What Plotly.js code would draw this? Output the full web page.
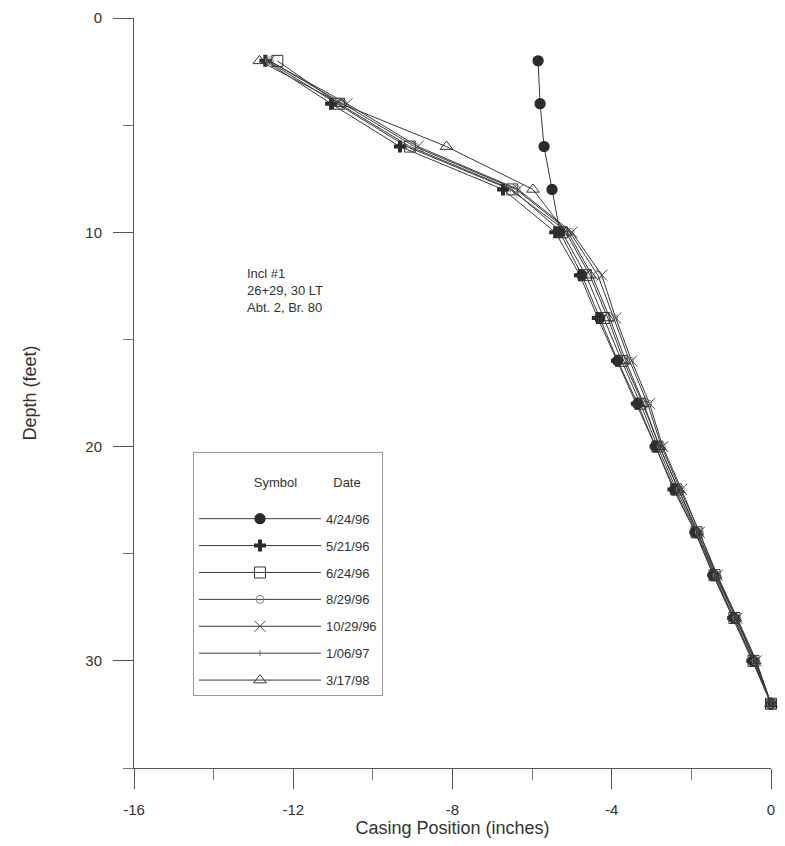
<!DOCTYPE html>
<html>
<head>
<meta charset="utf-8">
<script src="https://cdn.plot.ly/plotly-3.0.1.min.js"></script>
<style>html,body{margin:0;padding:0;background:#fff;}#chart{width:785px;height:846px;}</style>
</head>
<body>
<div id="chart"></div>
<script>
// Depth below top of casing (feet)
const depths = [2,4,6,8,10,12,14,16,18,20,22,24,26,28,30,32];
// Casing position (inches) per reading date
const dates = ["4/24/96","5/21/96","6/24/96","8/29/96","10/29/96","1/06/97","3/17/98"];
const s_042496 = [-5.85,-5.80,-5.70,-5.50,-5.30,-4.75,-4.30,-3.85,-3.35,-2.90,-2.42,-1.90,-1.45,-0.93,-0.45,0.00];
const s_052196 = [-12.70,-11.05,-9.32,-6.73,-5.42,-4.80,-4.35,-3.87,-3.37,-2.90,-2.45,-1.90,-1.45,-0.95,-0.47,0.00];
const s_062496 = [-12.40,-10.85,-9.07,-6.50,-5.25,-4.65,-4.20,-3.75,-3.28,-2.85,-2.38,-1.87,-1.42,-0.92,-0.44,0.00];
const s_082996 = [-12.60,-10.75,-8.95,-6.40,-5.05,-4.35,-3.95,-3.55,-3.10,-2.75,-2.28,-1.80,-1.36,-0.86,-0.38,0.00];
const s_102996 = [-12.60,-10.65,-8.87,-6.35,-5.00,-4.25,-3.90,-3.50,-3.05,-2.72,-2.25,-1.80,-1.35,-0.85,-0.37,0.00];
const s_010697 = [-12.65,-10.90,-9.15,-6.55,-5.10,-4.50,-4.05,-3.65,-3.20,-2.80,-2.32,-1.84,-1.40,-0.88,-0.40,0.00];
const s_031798 = [-12.85,-10.80,-8.15,-5.98,-5.15,-4.55,-4.10,-3.70,-3.22,-2.80,-2.33,-1.85,-1.39,-0.90,-0.41,0.00];
const xTickVals = [-16,-12,-8,-4,0];
const xTickText = ["-16","-12","-8","-4","0"];
const yTickVals = [0,10,20,30];
const yTickText = ["0","10","20","30"];
const noteLines = ["Incl #1","26+29, 30 LT","Abt. 2, Br. 80"];

const seriesVals = [s_042496,s_052196,s_062496,s_082996,s_102996,s_010697,s_031798];
const styles = [
  {symbol:"circle", size:10, color:"#2b2b2b", lw:1.3},
  {symbol:"cross", size:10, color:"#2b2b2b", lw:0},
  {symbol:"square-open", size:11, color:"#333", lw:1},
  {symbol:"circle-open", size:8, color:"#888", lw:1},
  {symbol:"x-thin-open", size:11, color:"#444", lw:1},
  {symbol:"line-ns-open", size:4, color:"#666", lw:1},
  {symbol:"triangle-up-open", size:11, color:"#333", lw:1}
];
const traces = seriesVals.map((vals,i)=>({
  type:"scatter", mode:"lines+markers",
  x: vals, y: depths, name: dates[i], legendgroup: "g"+i,
  line:{color:"#3a3a3a", width:1},
  marker:{symbol:styles[i].symbol, size:styles[i].size, color:styles[i].color,
          line:{color:styles[i].color, width:styles[i].lw}},
  cliponaxis:false
}));

const font = "Liberation Sans, Arial, sans-serif";
const nb = n => "\u00A0".repeat(n);
const layout = {
  width:785, height:846,
  margin:{l:134, r:14, t:18, b:78},
  paper_bgcolor:"#fff", plot_bgcolor:"#fff",
  showlegend:true,
  font:{family:font, color:"#333", size:13},
  xaxis:{
    range:[-16,0], showgrid:false, zeroline:false, showline:true, linecolor:"#555", linewidth:1,
    tickmode:"array", tickvals:xTickVals, ticktext:xTickText,
    ticks:"outside", ticklen:20, tickcolor:"#555", tickwidth:1,
    minor:{dtick:2, tick0:0, ticks:"outside", ticklen:11, tickcolor:"#777", showgrid:false},
    ticklabelstandoff:8,
    tickfont:{family:font, size:15, color:"#333"},
    title:{text:"Casing Position (inches)", font:{family:font, size:18, color:"#333"}, standoff:2},
    mirror:false
  },
  yaxis:{
    range:[35,0], showgrid:false, zeroline:false, showline:true, linecolor:"#555", linewidth:1,
    tickmode:"array", tickvals:yTickVals, ticktext:yTickText,
    ticks:"outside", ticklen:20, tickcolor:"#555", tickwidth:1,
    minor:{dtick:5, tick0:0, ticks:"outside", ticklen:10, tickcolor:"#777", showgrid:false},
    ticklabelstandoff:8,
    tickfont:{family:font, size:15, color:"#333"},
    title:{text:"Depth (feet)", font:{family:"Liberation Sans Narrow, Liberation Sans, Arial", size:18, color:"#333"}, standoff:44}
  },
  legend:{
    x:0.0926, y:0.4213, xanchor:"left", yanchor:"top",
    bordercolor:"#999", borderwidth:1, bgcolor:"#fff",
    itemwidth:122, tracegroupgap:7, itemsizing:"trace",
    font:{family:font, size:13, color:"#333"},
    title:{text:"<br>" + nb(16) + "Symbol" + nb(10) + "Date<br>" + nb(1), font:{family:font, size:13, color:"#333"}}
  },
  annotations:[{
    xref:"x", yref:"y", x:-13.2, y:11.5, xanchor:"left", yanchor:"top", align:"left",
    text: noteLines.join("<br>"), showarrow:false,
    font:{family:font, size:13, color:"#333"}
  }]
};
Plotly.newPlot("chart", traces, layout, {displayModeBar:false, staticPlot:true});
</script>
</body>
</html>
